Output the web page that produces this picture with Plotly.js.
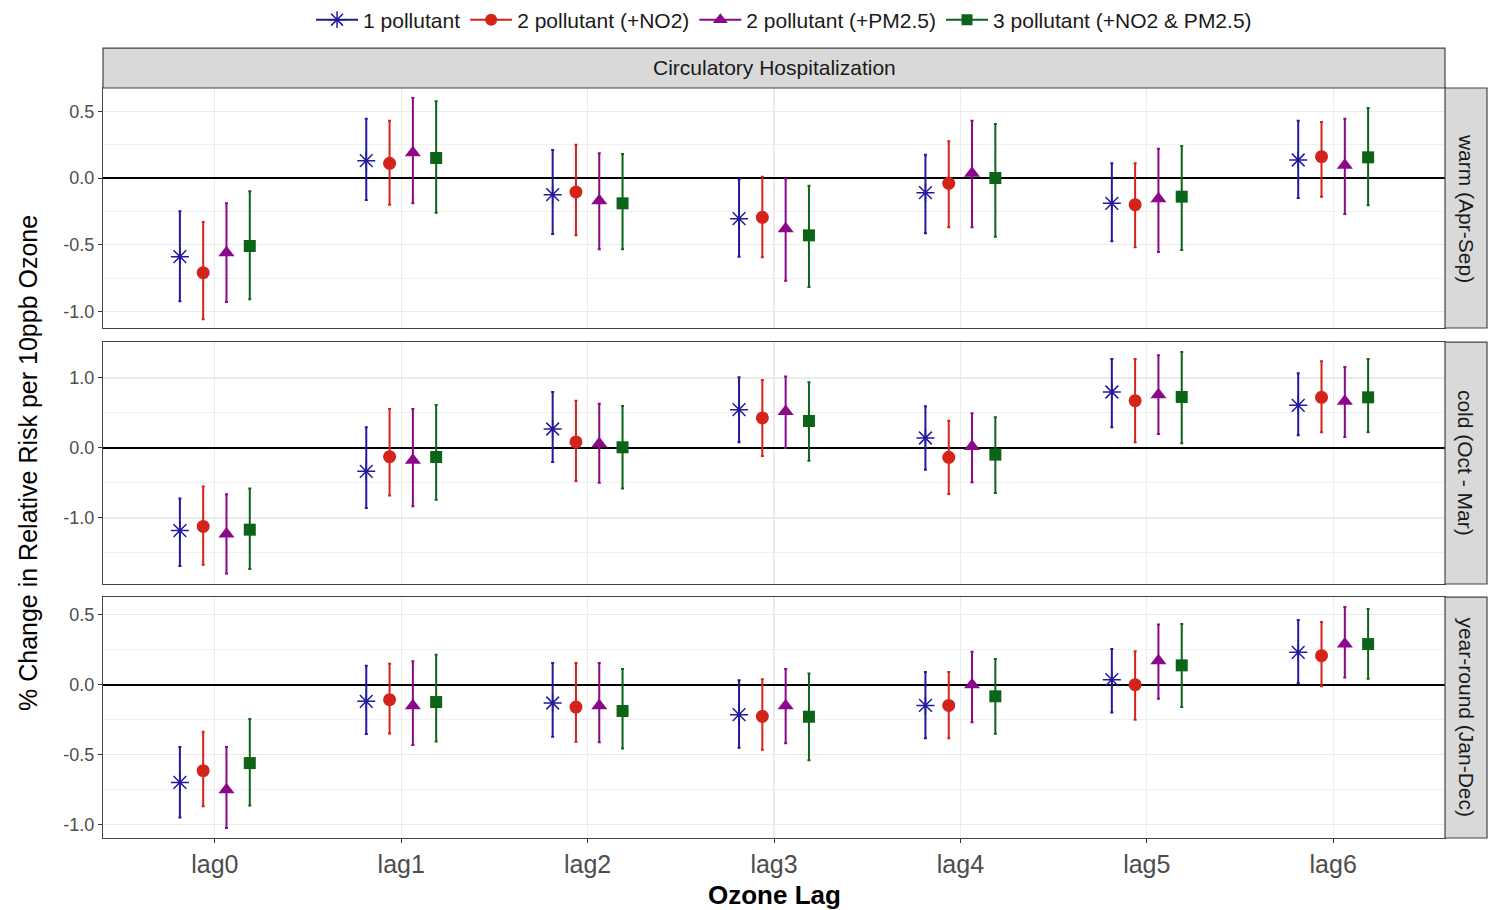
<!DOCTYPE html>
<html>
<head>
<meta charset="utf-8">
<script src="https://cdn.plot.ly/plotly-3.0.1.min.js"></script>
<style>html,body{margin:0;padding:0;background:#fff;}#chart{width:1496px;height:910px;}</style>
</head>
<body>
<div id="chart"></div>
<script>
// ---------- DATA ----------
const lags = ['lag0', 'lag1', 'lag2', 'lag3', 'lag4', 'lag5', 'lag6'];
const models = ['1 pollutant', '2 pollutant (+NO2)', '2 pollutant (+PM2.5)', '3 pollutant (+NO2 & PM2.5)'];
const seasons = ['warm (Apr-Sep)', 'cold (Oct - Mar)', 'year-round (Jan-Dec)'];
const outcome = 'Circulatory Hospitalization';

// warm season: estimates / lower / upper (rows = models, cols = lags)
const warmEst = [
  [-0.59, 0.13, -0.125, -0.305, -0.11, -0.19, 0.135],
  [-0.71, 0.11, -0.105, -0.295, -0.04, -0.20, 0.16],
  [-0.56, 0.19, -0.17, -0.38, 0.035, -0.155, 0.095],
  [-0.51, 0.15, -0.19, -0.43, 0.0, -0.14, 0.155]
];
const warmLo = [
  [-0.925, -0.165, -0.42, -0.59, -0.415, -0.475, -0.15],
  [-1.06, -0.20, -0.43, -0.595, -0.37, -0.52, -0.14],
  [-0.93, -0.19, -0.535, -0.77, -0.37, -0.555, -0.27],
  [-0.91, -0.26, -0.535, -0.8175, -0.44, -0.54, -0.205]
];
const warmHi = [
  [-0.25, 0.445, 0.21, -0.01, 0.175, 0.11, 0.43],
  [-0.33, 0.43, 0.25, 0.01, 0.275, 0.11, 0.42],
  [-0.19, 0.60, 0.185, -0.005, 0.43, 0.22, 0.445],
  [-0.10, 0.575, 0.18, -0.0575, 0.405, 0.24, 0.525]
];

// cold season
const coldEst = [
  [-1.18, -0.333, 0.271, 0.548, 0.143, 0.80, 0.61],
  [-1.12, -0.124, 0.086, 0.429, -0.133, 0.676, 0.724],
  [-1.23, -0.176, 0.06, 0.52, 0.02, 0.76, 0.667],
  [-1.167, -0.129, 0.01, 0.386, -0.095, 0.729, 0.724]
];
const coldLo = [
  [-1.686, -0.857, -0.20, 0.081, -0.31, 0.295, 0.181],
  [-1.667, -0.68, -0.471, -0.114, -0.657, 0.081, 0.224],
  [-1.795, -0.833, -0.495, 0.0, -0.49, 0.20, 0.157],
  [-1.73, -0.738, -0.58, -0.181, -0.643, 0.067, 0.224]
];
const coldHi = [
  [-0.72, 0.295, 0.80, 1.01, 0.595, 1.271, 1.067],
  [-0.55, 0.557, 0.676, 0.971, 0.39, 1.271, 1.238],
  [-0.66, 0.557, 0.633, 1.02, 0.495, 1.324, 1.157],
  [-0.58, 0.614, 0.60, 0.938, 0.438, 1.371, 1.271]
];

// year-round
const yearEst = [
  [-0.698, -0.119, -0.131, -0.214, -0.148, 0.036, 0.231],
  [-0.614, -0.107, -0.16, -0.226, -0.148, 0.0, 0.207],
  [-0.75, -0.15, -0.15, -0.15, 0.0, 0.171, 0.29],
  [-0.56, -0.124, -0.188, -0.229, -0.083, 0.138, 0.29]
];
const yearLo = [
  [-0.948, -0.352, -0.371, -0.45, -0.383, -0.198, 0.012],
  [-0.869, -0.348, -0.407, -0.464, -0.383, -0.25, -0.012],
  [-1.024, -0.431, -0.412, -0.419, -0.269, -0.10, 0.052],
  [-0.862, -0.405, -0.455, -0.54, -0.35, -0.16, 0.043]
];
const yearHi = [
  [-0.445, 0.136, 0.155, 0.031, 0.09, 0.255, 0.462],
  [-0.336, 0.15, 0.155, 0.038, 0.09, 0.238, 0.448],
  [-0.445, 0.167, 0.155, 0.112, 0.236, 0.429, 0.555],
  [-0.245, 0.214, 0.112, 0.079, 0.183, 0.433, 0.54]
];

// y tick labels per panel
const warmTicks = [-1, -0.5, 0, 0.5];
const warmTickText = ['-1.0', '-0.5', '0.0', '0.5'];
const coldTicks = [-1, 0, 1];
const coldTickText = ['-1.0', '0.0', '1.0'];
const yearTicks = [-1, -0.5, 0, 0.5];
const yearTickText = ['-1.0', '-0.5', '0.0', '0.5'];

// ---------- STYLE ----------
const colors = ['#221a9a', '#d4231a', '#8b078b', '#0b6418'];
const symbols = ['asterisk-open', 'circle', 'triangle-up', 'square'];
const sizes = [15, 13, 14, 12];
const dodge = [-0.1875, -0.0625, 0.0625, 0.1875];
const FONT = 'Liberation Sans, Arial, Helvetica, sans-serif';

const panelData = [
  {est: warmEst, lo: warmLo, hi: warmHi, ticks: warmTicks, text: warmTickText, range: [-1.125, 0.675], minor: [-0.75, -0.25, 0.25], domain: [0.68, 1.0]},
  {est: coldEst, lo: coldLo, hi: coldHi, ticks: coldTicks, text: coldTickText, range: [-1.943, 1.514], minor: [-1.5, -0.5, 0.5], domain: [0.3387, 0.6613]},
  {est: yearEst, lo: yearLo, hi: yearHi, ticks: yearTicks, text: yearTickText, range: [-1.095, 0.626], minor: [-0.75, -0.25, 0.25], domain: [0, 0.3213]}
];

const traces = [];
panelData.forEach((p, s) => {
  const xa = s === 0 ? 'x' : 'x' + (s + 1);
  const ya = s === 0 ? 'y' : 'y' + (s + 1);
  models.forEach((m, k) => {
    const est = p.est[k];
    traces.push({
      type: 'scatter', mode: 'markers', name: m, showlegend: false,
      xaxis: xa, yaxis: ya,
      x: lags.map((_, i) => i + dodge[k]),
      y: est,
      error_y: {
        type: 'data', symmetric: false,
        array: est.map((v, i) => p.hi[k][i] - v),
        arrayminus: est.map((v, i) => v - p.lo[k][i]),
        color: colors[k], thickness: 2, width: 1.5
      },
      marker: {symbol: symbols[k], size: sizes[k], color: colors[k],
               line: {color: colors[k], width: k === 0 ? 1.5 : 0}},
      hoverinfo: 'x+y'
    });
  });
});
// legend entries
models.forEach((m, k) => {
  traces.push({
    type: 'scatter', mode: 'lines+markers', name: m, x: [null], y: [null],
    xaxis: 'x', yaxis: 'y',
    line: {color: colors[k], width: 2},
    marker: {symbol: symbols[k], size: sizes[k] - 1, color: colors[k],
             line: {color: colors[k], width: k === 0 ? 1.5 : 0}}
  });
});

const layout = {
  width: 1496, height: 910,
  margin: {l: 103, r: 51, t: 88, b: 72},
  paper_bgcolor: '#fff', plot_bgcolor: '#fff',
  font: {family: FONT, color: '#1a1a1a'},
  showlegend: true,
  legend: {orientation: 'h', xref: 'paper', x: 0.5075, xanchor: 'center',
           yref: 'container', y: 0.978, yanchor: 'middle',
           font: {size: 21, color: '#1a1a1a'}, itemwidth: 42, tracegroupgap: 0},
  shapes: [], annotations: []
};

panelData.forEach((p, s) => {
  const sx = s === 0 ? '' : String(s + 1);
  layout['xaxis' + sx] = {
    domain: [0, 1], anchor: 'y' + sx, range: [-0.6, 6.6],
    tickmode: 'array', tickvals: lags.map((_, i) => i), ticktext: lags,
    showticklabels: s === 2, ticks: s === 2 ? 'outside' : '', ticklen: 4, tickcolor: '#333',
    tickfont: {size: 25, color: '#4d4d4d', family: FONT},
    showgrid: true, gridcolor: '#ebebeb', gridwidth: 1.3,
    showline: true, mirror: true, linecolor: '#444', linewidth: 1.2, zeroline: false
  };
  layout['yaxis' + sx] = {
    domain: p.domain, anchor: 'x' + sx, range: p.range,
    tickmode: 'array', tickvals: p.ticks, ticktext: p.text,
    ticks: 'outside', ticklen: 4, tickcolor: '#333',
    tickfont: {size: 18, color: '#4d4d4d', family: FONT},
    showgrid: true, gridcolor: '#ebebeb', gridwidth: 1.3,
    minor: {tickmode: 'array', tickvals: p.minor, showgrid: true, gridcolor: '#f0f0f0', gridwidth: 1, ticks: ''},
    showline: true, mirror: true, linecolor: '#444', linewidth: 1.2,
    zeroline: true, zerolinecolor: '#000', zerolinewidth: 2.2
  };
  // right strip
  layout.shapes.push({type: 'rect', xref: 'paper', yref: 'paper', x0: 1.0, x1: 1.0313,
    y0: p.domain[0], y1: p.domain[1], fillcolor: '#d9d9d9', line: {color: '#444', width: 1.2}});
  layout.annotations.push({xref: 'paper', yref: 'paper', x: 1.0157, y: (p.domain[0] + p.domain[1]) / 2,
    text: seasons[s], textangle: 90, showarrow: false, xanchor: 'center', yanchor: 'middle',
    font: {size: 21, color: '#1a1a1a', family: FONT}});
});

// top strip
layout.shapes.push({type: 'rect', xref: 'paper', yref: 'paper', x0: 0, x1: 1, y0: 1.0, y1: 1.0533,
  fillcolor: '#d9d9d9', line: {color: '#444', width: 1.2}});
layout.annotations.push({xref: 'paper', yref: 'paper', x: 0.5, y: 1.0267, text: outcome, showarrow: false,
  xanchor: 'center', yanchor: 'middle', font: {size: 21, color: '#1a1a1a', family: FONT}});
// axis titles
layout.annotations.push({xref: 'paper', yref: 'paper', x: -0.0559, y: 0.5, text: '% Change in Relative Risk per 10ppb Ozone',
  textangle: -90, showarrow: false, xanchor: 'center', yanchor: 'middle', font: {size: 25, color: '#000', family: FONT}});
layout.annotations.push({xref: 'paper', yref: 'paper', x: 0.5, y: -0.076, text: '<b>Ozone Lag</b>',
  showarrow: false, xanchor: 'center', yanchor: 'middle', font: {size: 26, color: '#000', family: FONT}});

Plotly.newPlot('chart', traces, layout, {displayModeBar: false, staticPlot: true});
</script>
</body>
</html>
